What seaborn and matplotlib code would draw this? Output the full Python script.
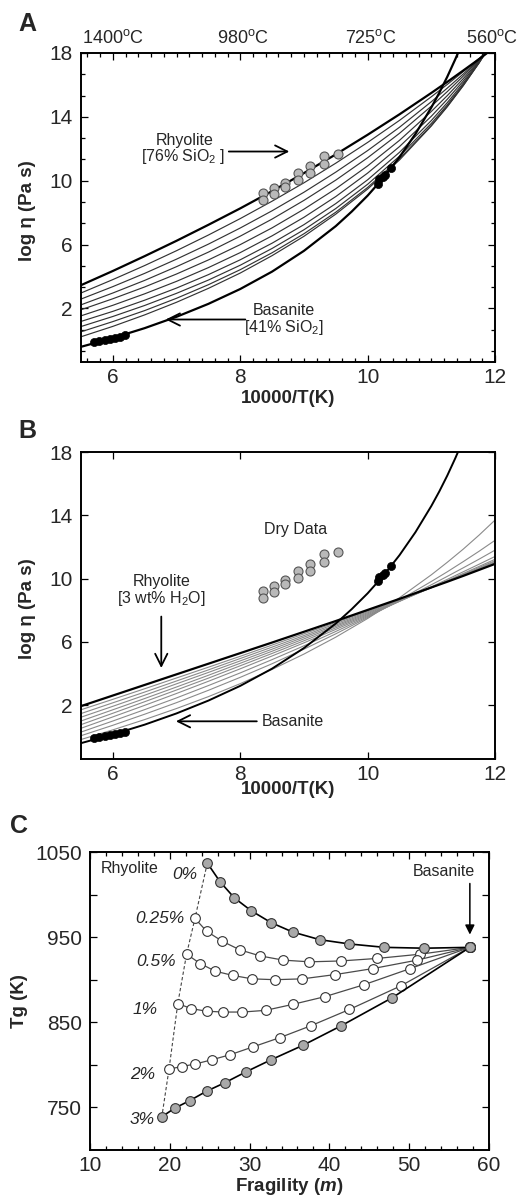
import numpy as np
import pandas as pd
import matplotlib
matplotlib.use("Agg")
import matplotlib.pyplot as plt
import seaborn as sns
from matplotlib.ticker import FixedLocator, MultipleLocator
import matplotlib.transforms as mtransforms

# ---------------- data ----------------
# common 10000/T grid for panels A and B
XA = [5.5, 6.0, 6.5, 7.0, 7.5, 8.0, 8.5, 9.0, 9.5, 10.0, 10.5, 11.0, 11.25, 11.5, 11.75, 12.0]

# Panel A: dry rhyolite -> basanite mixtures (log viscosity)
A_rhyolite = [3.46, 4.35, 5.28, 6.24, 7.24, 8.27, 9.35, 10.48, 11.65, 12.88, 14.16, 15.50, 16.19, 16.90, 17.62, 18.37]
A_mix1 = [2.97, 3.81, 4.69, 5.62, 6.60, 7.63, 8.72, 9.87, 11.10, 12.40, 13.78, 15.26, 16.03, 16.83, 17.66, 18.52]
A_mix2 = [2.59, 3.37, 4.20, 5.09, 6.03, 7.04, 8.12, 9.28, 10.54, 11.89, 13.35, 14.95, 15.80, 16.68, 17.61, 18.59]
A_mix3 = [2.23, 2.97, 3.76, 4.62, 5.53, 6.53, 7.60, 8.77, 10.04, 11.44, 12.97, 14.67, 15.58, 16.55, 17.57, 18.66]
A_mix4 = [1.92, 2.61, 3.35, 4.16, 5.04, 6.00, 7.05, 8.22, 9.50, 10.93, 12.53, 14.34, 15.33, 16.39, 17.52, 18.74]
A_mix5 = [1.54, 2.20, 2.92, 3.70, 4.56, 5.50, 6.55, 7.71, 9.01, 10.48, 12.14, 14.04, 15.10, 16.24, 17.48, 18.82]
A_mix6 = [1.19, 1.82, 2.52, 3.28, 4.12, 5.05, 6.09, 7.25, 8.57, 10.06, 11.78, 13.77, 14.89, 16.11, 17.43, 18.89]
A_mix7 = [0.87, 1.50, 2.19, 2.95, 3.78, 4.71, 5.76, 6.93, 8.26, 9.78, 11.54, 13.59, 14.75, 16.02, 17.40, 18.94]
A_mix8 = [0.54, 1.18, 1.87, 2.64, 3.49, 4.43, 5.49, 6.68, 8.03, 9.58, 11.38, 13.47, 14.66, 15.96, 17.39, 18.97]
A_mix9 = [0.23, 0.88, 1.60, 2.39, 3.26, 4.22, 5.31, 6.52, 7.91, 9.48, 11.30, 13.43, 14.63, 15.95, 17.38, 18.97]

# basanite (same curve in panels A and B), on a denser grid where it bends
bas_x = [5.5, 6.0, 6.5, 7.0, 7.5, 8.0, 8.5, 9.0, 9.5, 9.75, 10.0, 10.25, 10.5, 10.75, 11.0, 11.125, 11.25, 11.375, 11.5]
basanite = [-0.40, 0.15, 0.77, 1.48, 2.29, 3.22, 4.31, 5.61, 7.16, 8.07, 9.07, 10.20, 11.48, 12.93, 14.59, 15.51, 16.51, 17.60, 18.76]

# Panel B: hydrous rhyolite (3 wt% H2O) -> basanite mixtures
B_rhyolite = [1.94, 2.61, 3.28, 3.95, 4.62, 5.29, 5.96, 6.64, 7.32, 8.02, 8.72, 9.44, 9.80, 10.17, 10.55, 10.93]
B_mix1 = [1.71, 2.37, 3.04, 3.72, 4.40, 5.09, 5.80, 6.51, 7.23, 7.96, 8.70, 9.45, 9.83, 10.21, 10.59, 10.98]
B_mix2 = [1.47, 2.15, 2.83, 3.53, 4.23, 4.95, 5.67, 6.40, 7.15, 7.90, 8.66, 9.44, 9.83, 10.22, 10.62, 11.02]
B_mix3 = [1.24, 1.93, 2.63, 3.35, 4.07, 4.80, 5.54, 6.30, 7.06, 7.84, 8.63, 9.43, 9.84, 10.24, 10.65, 11.07]
B_mix4 = [1.00, 1.71, 2.42, 3.15, 3.89, 4.65, 5.41, 6.19, 6.98, 7.78, 8.60, 9.43, 9.85, 10.27, 10.70, 11.13]
B_mix5 = [0.77, 1.49, 2.22, 2.96, 3.71, 4.49, 5.27, 6.07, 6.89, 7.72, 8.57, 9.43, 9.87, 10.32, 10.77, 11.22]
B_mix6 = [0.54, 1.26, 1.99, 2.74, 3.51, 4.30, 5.11, 5.94, 6.79, 7.66, 8.56, 9.48, 9.95, 10.43, 10.91, 11.40]
B_mix7 = [0.30, 1.00, 1.72, 2.46, 3.24, 4.04, 4.88, 5.75, 6.66, 7.60, 8.58, 9.61, 10.14, 10.68, 11.23, 11.80]
B_mix8 = [0.07, 0.73, 1.43, 2.16, 2.94, 3.76, 4.62, 5.54, 6.51, 7.54, 8.64, 9.82, 10.43, 11.07, 11.73, 12.42]
B_mix9 = [-0.17, 0.44, 1.09, 1.79, 2.54, 3.36, 4.26, 5.23, 6.30, 7.48, 8.79, 10.24, 11.03, 11.86, 12.75, 13.70]

# measured viscosities
rhy_data_x = [8.35, 8.35, 8.53, 8.53, 8.70, 8.70, 8.90, 8.90, 9.10, 9.10, 9.32, 9.32, 9.54]
rhy_data_y = [9.21, 8.79, 9.53, 9.15, 9.88, 9.63, 10.47, 10.05, 10.93, 10.51, 11.56, 11.03, 11.66]
bas_data_x = [5.70, 5.78, 5.87, 5.95, 6.03, 6.11, 6.19, 10.16, 10.18, 10.24, 10.28, 10.37]
bas_data_y = [-0.08, -0.02, 0.04, 0.10, 0.16, 0.24, 0.32, 9.82, 10.12, 10.25, 10.36, 10.80]

# Panel C: Tg vs fragility for each water content
water_labels = ["0%", "0.25%", "0.5%", "1%", "2%", "3%"]
m_0 = [24.7, 26.3, 28.1, 30.2, 32.7, 35.4, 38.8, 42.5, 46.9, 51.9, 57.6]
tg_0 = [1037, 1015, 996, 981, 967, 956, 947, 942, 938, 937, 938]
m_025 = [23.15, 24.6, 26.6, 28.8, 31.3, 34.2, 37.5, 41.4, 46.0, 51.4, 57.6]
tg_025 = [972, 957, 945, 935, 928, 923, 921, 922, 925, 930, 938]
m_05 = [22.1, 23.8, 25.7, 27.9, 30.3, 33.2, 36.6, 40.7, 45.4, 51.0, 57.6]
tg_05 = [930, 919, 910, 905, 901, 900, 901, 906, 913, 923, 938]
m_1 = [21.0, 22.7, 24.6, 26.7, 29.1, 32.0, 35.4, 39.4, 44.3, 50.1, 57.6]
tg_1 = [872, 866, 863, 862, 862, 864, 871, 880, 894, 913, 938]
m_2 = [19.9, 21.5, 23.2, 25.3, 27.6, 30.4, 33.8, 37.7, 42.5, 49.0, 57.6]
tg_2 = [795, 798, 801, 806, 812, 821, 832, 846, 865, 893, 938]
m_3 = [19.0, 20.6, 22.5, 24.6, 26.9, 29.6, 32.7, 36.7, 41.5, 47.9, 57.6]
tg_3 = [739, 749, 758, 769, 779, 792, 806, 823, 846, 879, 938]

top_labels = ["1400$^{\\mathrm{o}}$C", "980$^{\\mathrm{o}}$C", "725$^{\\mathrm{o}}$C", "560$^{\\mathrm{o}}$C"]
top_label_pos = [6.0, 8.05, 10.05, 11.95]

# ---------------- style ----------------
sns.set_style("ticks")
plt.rcParams['font.family'] = ['Liberation Sans', 'DejaVu Sans']
plt.rcParams['mathtext.fontset'] = 'custom'
plt.rcParams['mathtext.rm'] = 'Liberation Sans'
plt.rcParams['mathtext.it'] = 'Liberation Sans:italic:bold'
plt.rcParams['mathtext.bf'] = 'Liberation Sans:bold'
plt.rcParams['axes.linewidth'] = 1.4
plt.rcParams['axes.edgecolor'] = 'black'

TICK_FS = 15
LAB_FS = 13.5
ANN_FS = 11.5

fig = plt.figure(figsize=(5.2, 11.99), dpi=100)
axA = fig.add_axes([0.1558, 0.6981, 0.7962, 0.2577])
axB = fig.add_axes([0.1558, 0.3670, 0.7962, 0.2560])
axC = fig.add_axes([0.1731, 0.0409, 0.7673, 0.2485])


def draw_line(ax, x, y, color, lw, ls='-', z=2):
    sns.lineplot(x=x, y=y, ax=ax, color=color, linewidth=lw, linestyle=ls,
                 sort=False, estimator=None, legend=False, zorder=z)


def style_axis(ax):
    ax.tick_params(which='both', direction='in', top=True, right=True,
                   labelsize=TICK_FS, width=0.9, color='black', pad=6)
    ax.tick_params(axis='x', which='both', pad=4)
    ax.tick_params(which='major', length=5)
    ax.tick_params(which='minor', length=3)
    for s in ax.spines.values():
        s.set_visible(True)
        s.set_linewidth(1.4)


arrow_kw = dict(arrowstyle='->', lw=1.3, color='black', mutation_scale=22,
                shrinkA=0, shrinkB=0)

# ---------------- Panel A ----------------
for ys in [A_mix1, A_mix2, A_mix3, A_mix4, A_mix5, A_mix6, A_mix7, A_mix8, A_mix9]:
    draw_line(axA, XA[:len(ys)], ys, '#333333', 0.85)
draw_line(axA, XA, A_rhyolite, 'black', 1.6, z=3)
draw_line(axA, bas_x, basanite, 'black', 1.6, z=3)
sns.scatterplot(x=rhy_data_x, y=rhy_data_y, ax=axA, s=42, color='#b9b9b9',
                edgecolor='#555555', linewidth=0.8, zorder=5, legend=False)
sns.scatterplot(x=bas_data_x, y=bas_data_y, ax=axA, s=34, color='black',
                edgecolor='black', linewidth=0.5, zorder=5, legend=False)
axA.set_xlim(5.5, 12)
axA.set_ylim(-1.35, 18)
axA.xaxis.set_major_locator(FixedLocator([6, 8, 10, 12]))
axA.xaxis.set_minor_locator(MultipleLocator(0.2))
axA.yaxis.set_major_locator(FixedLocator([2, 6, 10, 14, 18]))
axA.yaxis.set_minor_locator(FixedLocator(list(np.arange(-2, 18.01, 4.0 / 3.0))))
style_axis(axA)
axA.set_xlabel('10000/T(K)', fontsize=LAB_FS, fontweight='bold')
axA.set_ylabel('log \u03b7 (Pa s)', fontsize=LAB_FS, fontweight='bold')
axA.xaxis.set_label_coords(0.5, -0.09)
axA.yaxis.set_label_coords(-0.108, 0.49)
trA = mtransforms.blended_transform_factory(axA.transData, axA.transAxes)
for lab, xp in zip(top_labels, top_label_pos):
    axA.text(xp, 1.018, lab, transform=trA, ha='center', va='bottom', fontsize=13)
axA.text(7.12, 12.5, 'Rhyolite', ha='center', va='center', fontsize=ANN_FS)
axA.text(7.1, 11.5, '[76% SiO$_{\\mathrm{2}}$ ]', ha='center', va='center', fontsize=ANN_FS)
axA.annotate('', xy=(8.77, 11.83), xytext=(7.82, 11.83), arrowprops=arrow_kw)
axA.text(8.69, 1.9, 'Basanite', ha='center', va='center', fontsize=ANN_FS)
axA.text(8.69, 0.82, '[41% SiO$_{\\mathrm{2}}$]', ha='center', va='center', fontsize=ANN_FS)
axA.annotate('', xy=(6.83, 1.31), xytext=(8.08, 1.31), arrowprops=arrow_kw)

# ---------------- Panel B ----------------
for ys in [B_mix1, B_mix2, B_mix3, B_mix4, B_mix5, B_mix6, B_mix7, B_mix8, B_mix9]:
    draw_line(axB, XA[:len(ys)], ys, '#8a8a8a', 0.8)
draw_line(axB, XA, B_rhyolite, 'black', 1.6, z=3)
draw_line(axB, bas_x, basanite, 'black', 1.4, z=3)
sns.scatterplot(x=rhy_data_x, y=rhy_data_y, ax=axB, s=42, color='#b9b9b9',
                edgecolor='#555555', linewidth=0.8, zorder=5, legend=False)
sns.scatterplot(x=bas_data_x, y=bas_data_y, ax=axB, s=34, color='black',
                edgecolor='black', linewidth=0.5, zorder=5, legend=False)
axB.set_xlim(5.5, 12)
axB.set_ylim(-1.4, 18)
axB.xaxis.set_major_locator(FixedLocator([6, 8, 10, 12]))
axB.yaxis.set_major_locator(FixedLocator([2, 6, 10, 14, 18]))
style_axis(axB)
axB.set_xlabel('10000/T(K)', fontsize=LAB_FS, fontweight='bold')
axB.set_ylabel('log \u03b7 (Pa s)', fontsize=LAB_FS, fontweight='bold')
axB.xaxis.set_label_coords(0.5, -0.072)
axB.yaxis.set_label_coords(-0.108, 0.49)
axB.text(8.87, 13.1, 'Dry Data', ha='center', va='center', fontsize=ANN_FS)
axB.text(6.76, 9.79, 'Rhyolite', ha='center', va='center', fontsize=ANN_FS)
axB.text(6.76, 8.77, '[3 wt% H$_{\\mathrm{2}}$O]', ha='center', va='center', fontsize=ANN_FS)
axB.annotate('', xy=(6.76, 4.35), xytext=(6.76, 7.6), arrowprops=arrow_kw)
axB.text(8.33, 0.98, 'Basanite', ha='left', va='center', fontsize=ANN_FS)
axB.annotate('', xy=(6.99, 0.98), xytext=(8.26, 0.98), arrowprops=arrow_kw)

# ---------------- Panel C ----------------
series_m = [m_0, m_025, m_05, m_1, m_2, m_3]
series_tg = [tg_0, tg_025, tg_05, tg_1, tg_2, tg_3]
label_right = [23.5, 21.9, 20.8, 18.5, 18.2, 18.1]
label_y = [1023, 972, 921, 864.5, 789, 736]

# dashed line through the first (rhyolite) point of each series
draw_line(axC, [s[0] for s in series_m], [s[0] for s in series_tg], '#444444', 0.8, ls=(0, (3, 2)), z=2)

for i, (ms, ts) in enumerate(zip(series_m, series_tg)):
    filled = i in (0, 5)
    sns.lineplot(x=ms, y=ts, ax=axC, sort=False, estimator=None, legend=False,
                 color='black' if filled else '#4a4a4a',
                 linewidth=1.2 if filled else 0.9,
                 marker='o', markersize=7, markeredgewidth=0.8,
                 markerfacecolor='#a9a9a9' if filled else 'white',
                 markeredgecolor='#333333', zorder=4 if filled else 3)
    axC.text(label_right[i], label_y[i], water_labels[i], ha='right', va='center',
             fontsize=12.5, style='italic')

sns.scatterplot(x=[m_0[-1]], y=[tg_0[-1]], ax=axC, s=50, color='#a9a9a9',
                edgecolor='#333333', linewidth=0.8, zorder=6, legend=False)
axC.set_xlim(10, 60)
axC.set_ylim(700, 1050)
axC.xaxis.set_major_locator(MultipleLocator(10))
axC.xaxis.set_minor_locator(MultipleLocator(2))
axC.yaxis.set_major_locator(FixedLocator([750, 850, 950, 1050]))
axC.yaxis.set_minor_locator(FixedLocator([800, 900, 1000]))
style_axis(axC)
axC.tick_params(axis='y', which='minor', length=5)
axC.set_xlabel('Fragility ($m$)', fontsize=LAB_FS, fontweight='bold')
axC.set_ylabel('Tg (K)', fontsize=LAB_FS, fontweight='bold')
axC.xaxis.set_label_coords(0.5, -0.088)
axC.yaxis.set_label_coords(-0.155, 0.5)
axC.text(11.3, 1031, 'Rhyolite', ha='left', va='center', fontsize=11.5)
axC.text(54.3, 1027, 'Basanite', ha='center', va='center', fontsize=11.5)
axC.annotate('', xy=(57.6, 953), xytext=(57.6, 1013),
             arrowprops=dict(arrowstyle='-|>', lw=1.1, color='black',
                             mutation_scale=14, shrinkA=0, shrinkB=0))

# panel letters
fig.text(18 / 520, 1 - 12 / 1199, 'A', fontsize=18, fontweight='bold', ha='left', va='top')
fig.text(18 / 520, 1 - 419 / 1199, 'B', fontsize=18, fontweight='bold', ha='left', va='top')
fig.text(10 / 520, 1 - 814 / 1199, 'C', fontsize=18, fontweight='bold', ha='left', va='top')

fig.savefig('out.png', dpi=100)
